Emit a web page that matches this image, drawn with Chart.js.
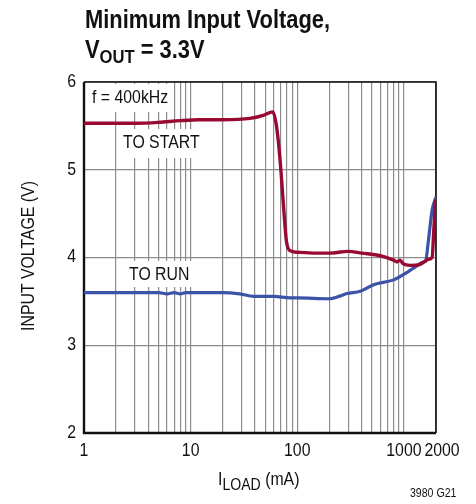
<!DOCTYPE html>
<html>
<head>
<meta charset="utf-8">
<script src="https://cdn.jsdelivr.net/npm/chart.js@4/dist/chart.umd.min.js"></script>
<style>
html,body{margin:0;padding:0;background:#fff;}
#wrap{position:relative;width:476px;height:504px;}
</style>
</head>
<body>
<div id="wrap"><canvas id="c" width="476" height="504"></canvas></div>
<script>
// ---- data ----
const startLoad = [1, 2, 3, 5, 8, 12, 20, 36, 48, 59, 64, 69, 74, 79, 85, 100, 150, 200, 300, 400, 600, 800, 860, 920, 980, 1150, 1400, 1550, 1700, 1840, 1906, 1977, 2000];
const startVin  = [5.53, 5.53, 5.53, 5.54, 5.56, 5.57, 5.57, 5.585, 5.62, 5.66, 5.49, 5.11, 4.62, 4.19, 4.08, 4.06, 4.05, 4.05, 4.07, 4.05, 4.02, 3.97, 3.95, 3.97, 3.93, 3.91, 3.92, 3.95, 3.98, 4.0, 4.31, 4.62, 4.66];
const runLoad = [1, 3, 5, 6, 7, 8, 9, 10, 20, 29, 39, 60, 86, 100, 200, 250, 292, 390, 520, 800, 1072, 1300, 1535, 1600, 1700, 1840, 2000];
const runVin  = [3.6, 3.6, 3.6, 3.585, 3.6, 3.585, 3.6, 3.6, 3.6, 3.585, 3.557, 3.557, 3.54, 3.54, 3.53, 3.56, 3.59, 3.615, 3.69, 3.745, 3.83, 3.9, 3.95, 3.96, 4.2, 4.54, 4.69];
const xGrid = [1,2,3,4,5,6,7,8,9,10,20,30,40,50,60,70,80,90,100,200,300,400,500,600,700,800,900,1000,2000];
const yGrid = [2,3,4,5,6];
const xTickLabels = [1, 10, 100, 1000, 2000];
const yTickLabels = [2, 3, 4, 5, 6];

const SANS = "'Liberation Sans', Arial, sans-serif";
const NS = 0.88; // horizontal condensation factor

// draw horizontally-condensed text, returns drawn width
function ntext(ctx, s, x, y, font, align, sx) {
  sx = sx || NS;
  ctx.save();
  ctx.font = font;
  const w = ctx.measureText(s).width * sx;
  let x0 = x;
  if (align === 'center') x0 = x - w / 2;
  else if (align === 'right') x0 = x - w;
  ctx.translate(x0, y);
  ctx.scale(sx, 1);
  ctx.textAlign = 'left';
  ctx.fillText(s, 0, 0);
  ctx.restore();
  return w;
}

const textPlugin = {
  id: 'texts',
  beforeDatasetsDraw(chart) {
    const ctx = chart.ctx;
    const a = chart.chartArea;
    ctx.save();
    // white boxes behind the annotations
    ctx.fillStyle = '#fff';
    ctx.fillRect(88, 84, 86, 28);
    ctx.fillRect(118, 129, 85, 29);
    ctx.fillRect(124, 261, 69, 26);
    // frame
    ctx.strokeStyle = '#111';
    ctx.lineWidth = 1.6;
    ctx.beginPath();
    ctx.moveTo(a.left, a.top); ctx.lineTo(a.right, a.top); ctx.lineTo(a.right, a.bottom);
    ctx.stroke();
    ctx.lineWidth = 2.4;
    ctx.beginPath();
    ctx.moveTo(a.left, a.top); ctx.lineTo(a.left, a.bottom); ctx.lineTo(a.right, a.bottom);
    ctx.stroke();
    // annotations
    ctx.fillStyle = '#111';
    ctx.textBaseline = 'middle';
    ntext(ctx, 'f = 400kHz', 92, 98, '18px ' + SANS, 'left');
    ntext(ctx, 'TO START', 123, 143, '18px ' + SANS, 'left');
    ntext(ctx, 'TO RUN', 129, 275, '18px ' + SANS, 'left');
    ctx.restore();
  },
  afterDraw(chart) {
    const ctx = chart.ctx;
    const xs = chart.scales.x, ys = chart.scales.y;
    ctx.save();
    ctx.fillStyle = '#111';
    // title
    ctx.textBaseline = 'alphabetic';
    ctx.font = 'bold 25px ' + SANS;
    const tsx = 245 / ctx.measureText('Minimum Input Voltage,').width;
    ntext(ctx, 'Minimum Input Voltage,', 85, 28, 'bold 25px ' + SANS, 'left', tsx);
    let w = ntext(ctx, 'V', 85, 58, 'bold 25px ' + SANS, 'left', tsx);
    let w2 = ntext(ctx, 'OUT', 85 + w, 63, 'bold 19px ' + SANS, 'left', tsx);
    ntext(ctx, ' = 3.3V', 85 + w + w2, 58, 'bold 25px ' + SANS, 'left', tsx);
    // y tick labels
    ctx.textBaseline = 'middle';
    yTickLabels.forEach(v => ntext(ctx, String(v), 76, ys.getPixelForValue(v), '18px ' + SANS, 'right'));
    // x tick labels
    xTickLabels.forEach(v => {
      let px = xs.getPixelForValue(v);
      if (v === 2000) px += 6;
      ntext(ctx, String(v), px, 451, '18px ' + SANS, 'center');
    });
    // x title
    ctx.textBaseline = 'alphabetic';
    let wi = ntext(ctx, 'I', 218, 485, '18px ' + SANS, 'left');
    let wl = ntext(ctx, 'LOAD', 218 + wi, 490, '16px ' + SANS, 'left');
    ntext(ctx, ' (mA)', 218 + wi + wl, 485, '18px ' + SANS, 'left');
    // footnote
    ntext(ctx, '3980 G21', 410, 497, '12px ' + SANS, 'left');
    // y title
    ctx.translate(29, 256);
    ctx.rotate(-Math.PI / 2);
    ctx.textBaseline = 'middle';
    ntext(ctx, 'INPUT VOLTAGE (V)', 0, 0, '18px ' + SANS, 'center');
    ctx.restore();
  }
};

new Chart(document.getElementById('c'), {
  type: 'line',
  data: {
    datasets: [
      {
        label: 'TO START',
        data: startLoad.map((x, i) => ({x, y: startVin[i]})),
        borderColor: '#990a33',
        borderWidth: 3.4,
        pointRadius: 0,
        cubicInterpolationMode: 'monotone',
        fill: false
      },
      {
        label: 'TO RUN',
        data: runLoad.map((x, i) => ({x, y: runVin[i]})),
        borderColor: '#3b54a8',
        borderWidth: 3.2,
        pointRadius: 0,
        cubicInterpolationMode: 'monotone',
        fill: false
      }
    ]
  },
  options: {
    responsive: false,
    animation: false,
    devicePixelRatio: 1,
    layout: { padding: { left: 84, right: 40, top: 82, bottom: 71 } },
    plugins: { legend: { display: false }, tooltip: { enabled: false }, title: { display: false } },
    scales: {
      x: {
        type: 'logarithmic',
        min: 1, max: 2000,
        afterBuildTicks: s => { s.ticks = xGrid.map(v => ({value: v})); },
        ticks: { display: false },
        grid: { color: '#8c8c8c', lineWidth: 1.2, drawTicks: false },
        border: { display: false }
      },
      y: {
        type: 'linear',
        min: 2, max: 6,
        afterBuildTicks: s => { s.ticks = yGrid.map(v => ({value: v})); },
        ticks: { display: false },
        grid: { color: '#8c8c8c', lineWidth: 1.2, drawTicks: false },
        border: { display: false }
      }
    }
  },
  plugins: [textPlugin]
});
</script>
</body>
</html>
